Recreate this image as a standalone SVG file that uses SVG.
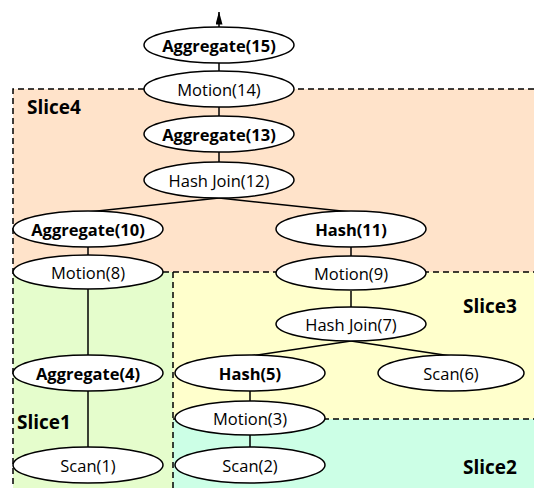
<svg xmlns="http://www.w3.org/2000/svg" width="534" height="488" viewBox="0 0 534 488">
  <style>
    .node ellipse { fill: #ffffff; stroke: #000000; stroke-width: 1.5; }
    .node text { font-family: "Open Sans", "Noto Sans", sans-serif; font-size: 16.5px; text-anchor: middle; dominant-baseline: central; fill: #000000; }
    .node.op text { font-weight: bold; }
    .edge { stroke: #000000; stroke-width: 1.5; fill: none; }
    .border { stroke: #000000; stroke-width: 1.5; stroke-dasharray: 6 4; fill: none; }
    .slice-label { font-family: "Open Sans", "Noto Sans", sans-serif; font-size: 19px; font-weight: bold; fill: #000000; }
  </style>
  <defs>
    <marker id="arrow" viewBox="0 0 13 7" refX="12.5" refY="3.5" markerWidth="13" markerHeight="7" markerUnits="userSpaceOnUse" orient="auto">
      <path d="M0,0 L13,3.5 L0,7 Z" fill="#000000"/>
    </marker>
  </defs>

  <!-- slice regions -->
  <g id="slices">
    <rect x="13" y="89" width="521" height="183" fill="#ffe3ca"/>
    <rect x="13" y="272" width="160" height="216" fill="#e5fdcc"/>
    <rect x="173" y="272" width="361" height="147" fill="#ffffcc"/>
    <rect x="173" y="419" width="361" height="69" fill="#ccffe6"/>
    <path class="border" d="M534,89 H13 V488"/>
    <path class="border" d="M163,272 H534"/>
    <path class="border" d="M173,272 V488"/>
    <path class="border" d="M173,419 H534"/>
    <text class="slice-label" x="27" y="114">Slice4</text>
    <text class="slice-label" x="463" y="313">Slice3</text>
    <text class="slice-label" x="17" y="429">Slice1</text>
    <text class="slice-label" x="463" y="474">Slice2</text>
  </g>

  <!-- connectors -->
  <g id="edges">
    <line class="edge" x1="219" y1="27" x2="219" y2="12" marker-end="url(#arrow)"/>
    <line class="edge" x1="219" y1="63" x2="219" y2="71"/>
    <line class="edge" x1="219" y1="107" x2="219" y2="116"/>
    <line class="edge" x1="219" y1="152" x2="219" y2="162"/>
    <line class="edge" x1="219" y1="198" x2="88" y2="212"/>
    <line class="edge" x1="219" y1="198" x2="351" y2="212"/>
    <line class="edge" x1="88" y1="247" x2="88" y2="255"/>
    <line class="edge" x1="351" y1="247" x2="351" y2="256"/>
    <line class="edge" x1="88" y1="289" x2="88" y2="355"/>
    <line class="edge" x1="351" y1="291" x2="351" y2="307"/>
    <line class="edge" x1="351" y1="341" x2="250" y2="356"/>
    <line class="edge" x1="351" y1="341" x2="451" y2="356"/>
    <line class="edge" x1="250" y1="391" x2="250" y2="401"/>
    <line class="edge" x1="88" y1="391" x2="88" y2="447"/>
    <line class="edge" x1="250" y1="435" x2="250" y2="447"/>
  </g>

  <g id="aggregate15" class="node op"><ellipse cx="219" cy="45" rx="75" ry="18"/><text x="219" y="45">Aggregate(15)</text></g>
  <g id="motion14" class="node"><ellipse cx="219" cy="89" rx="75" ry="18"/><text x="219" y="89">Motion(14)</text></g>
  <g id="aggregate13" class="node op"><ellipse cx="219" cy="134" rx="75" ry="18"/><text x="219" y="134">Aggregate(13)</text></g>
  <g id="hashjoin12" class="node"><ellipse cx="219" cy="180" rx="75" ry="18"/><text x="219" y="180">Hash Join(12)</text></g>
  <g id="aggregate10" class="node op"><ellipse cx="88" cy="229" rx="75" ry="18"/><text x="88" y="229">Aggregate(10)</text></g>
  <g id="hash11" class="node op"><ellipse cx="351" cy="229" rx="75" ry="18"/><text x="351" y="229">Hash(11)</text></g>
  <g id="motion8" class="node"><ellipse cx="88" cy="272" rx="75" ry="17"/><text x="88" y="272">Motion(8)</text></g>
  <g id="motion9" class="node"><ellipse cx="351" cy="273" rx="75" ry="17"/><text x="351" y="273">Motion(9)</text></g>
  <g id="hashjoin7" class="node"><ellipse cx="351" cy="324" rx="75" ry="17"/><text x="351" y="324">Hash Join(7)</text></g>
  <g id="aggregate4" class="node op"><ellipse cx="88" cy="373" rx="75" ry="18"/><text x="88" y="373">Aggregate(4)</text></g>
  <g id="hash5" class="node op"><ellipse cx="250" cy="373" rx="75" ry="18"/><text x="250" y="373">Hash(5)</text></g>
  <g id="scan6" class="node"><ellipse cx="451" cy="373" rx="73" ry="18"/><text x="451" y="373">Scan(6)</text></g>
  <g id="motion3" class="node"><ellipse cx="250" cy="418" rx="75" ry="17"/><text x="250" y="418">Motion(3)</text></g>
  <g id="scan1" class="node"><ellipse cx="88" cy="465" rx="75" ry="18"/><text x="88" y="465">Scan(1)</text></g>
  <g id="scan2" class="node"><ellipse cx="250" cy="465" rx="75" ry="18"/><text x="250" y="465">Scan(2)</text></g>
</svg>
